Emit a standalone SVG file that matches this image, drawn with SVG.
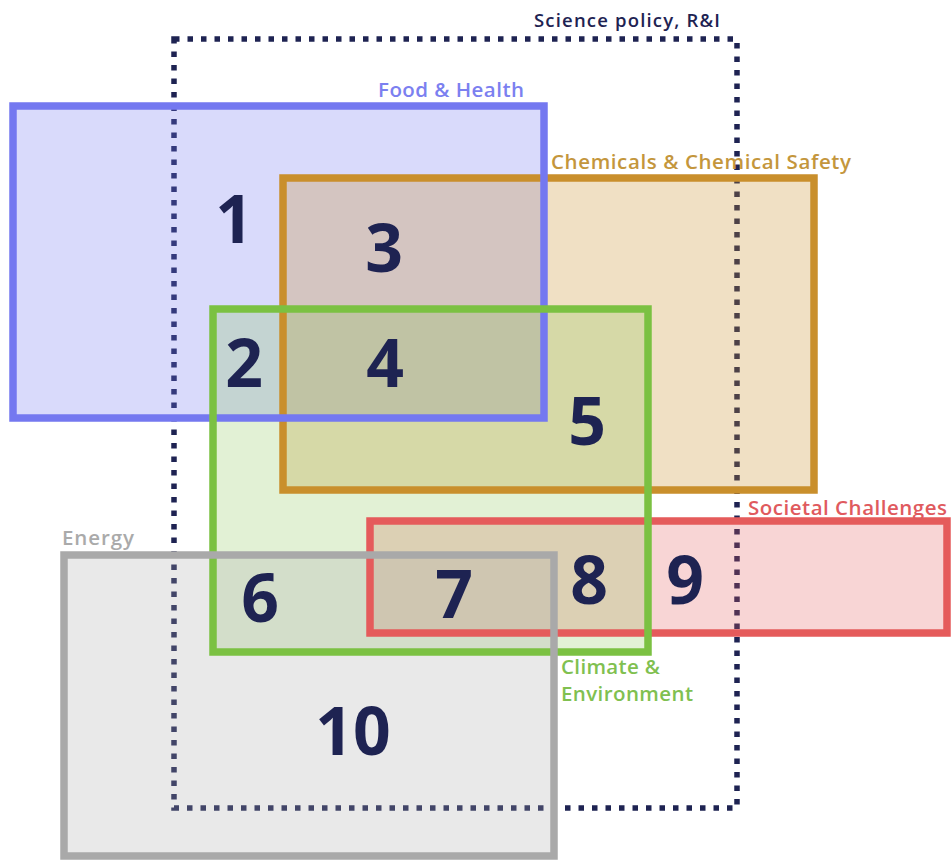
<svg xmlns="http://www.w3.org/2000/svg" width="951" height="861" viewBox="0 0 951 861">
<style>
.lbl{font-family:"Open Sans","Liberation Sans",sans-serif;font-weight:600;font-size:20.5px}
.num{font-family:"Open Sans","Liberation Sans",sans-serif;font-weight:700;font-size:66px;fill:#1e2352;text-anchor:middle}
.edge{fill:none;stroke-width:7.5}
</style>
<rect width="951" height="861" fill="#ffffff"/>
<g id="science">
<rect x="174" y="39" width="563" height="769" fill="none" stroke="#1e2352" stroke-width="5.5" stroke-dasharray="5.5 8"/>
<text class="lbl" x="720" y="27" fill="#1e2352" text-anchor="end" textLength="186" style="font-size:18.5px">Science policy, R&amp;I</text>
</g>
<g id="fills">
<rect x="13" y="106" width="531" height="312" fill="#7478f0" fill-opacity="0.27"/>
<rect x="283" y="178" width="531" height="312" fill="#c98f2c" fill-opacity="0.28"/>
<rect x="370" y="521" width="577" height="112" fill="#e55b5b" fill-opacity="0.26"/>
<rect x="213" y="309" width="435" height="343" fill="#7bc142" fill-opacity="0.22"/>
<rect x="64" y="555" width="490" height="301" fill="#a9a9a9" fill-opacity="0.26"/>
</g>
<g id="chemicals">
<rect class="edge" x="283" y="178" width="531" height="312" stroke="#c98f2c"/>
<text class="lbl" x="551" y="169" fill="#c4963c" textLength="300">Chemicals &amp; Chemical Safety</text>
</g>
<g id="food">
<rect class="edge" x="13" y="106" width="531" height="312" stroke="#7478f0"/>
<text class="lbl" x="524" y="97" fill="#7b80f0" text-anchor="end" textLength="146">Food &amp; Health</text>
</g>
<g id="societal">
<rect class="edge" x="370" y="521" width="577" height="112" stroke="#e55b5b"/>
<text class="lbl" x="748" y="515" fill="#e05a5e" textLength="199">Societal Challenges</text>
</g>
<g id="climate">
<rect class="edge" x="213" y="309" width="435" height="343" stroke="#7bc142"/>
<text class="lbl" x="561" y="674" fill="#80c050" textLength="99">Climate &amp;</text>
<text class="lbl" x="561" y="701" fill="#80c050" textLength="132">Environment</text>
</g>
<g id="energy">
<rect class="edge" x="64" y="555" width="490" height="301" stroke="#a9a9a9"/>
<text class="lbl" x="62" y="545" fill="#aaaaaa" textLength="72">Energy</text>
</g>
<g id="regions">
<text class="num" x="234" y="243">1</text>
<text class="num" x="384" y="272">3</text>
<text class="num" x="244" y="387">2</text>
<text class="num" x="385" y="387">4</text>
<text class="num" x="587" y="445">5</text>
<text class="num" x="260" y="622">6</text>
<text class="num" x="454" y="618">7</text>
<text class="num" x="589" y="604">8</text>
<text class="num" x="685" y="604">9</text>
<text class="num" x="353" y="755">10</text>
</g>
<g id="connectors"/>
</svg>
